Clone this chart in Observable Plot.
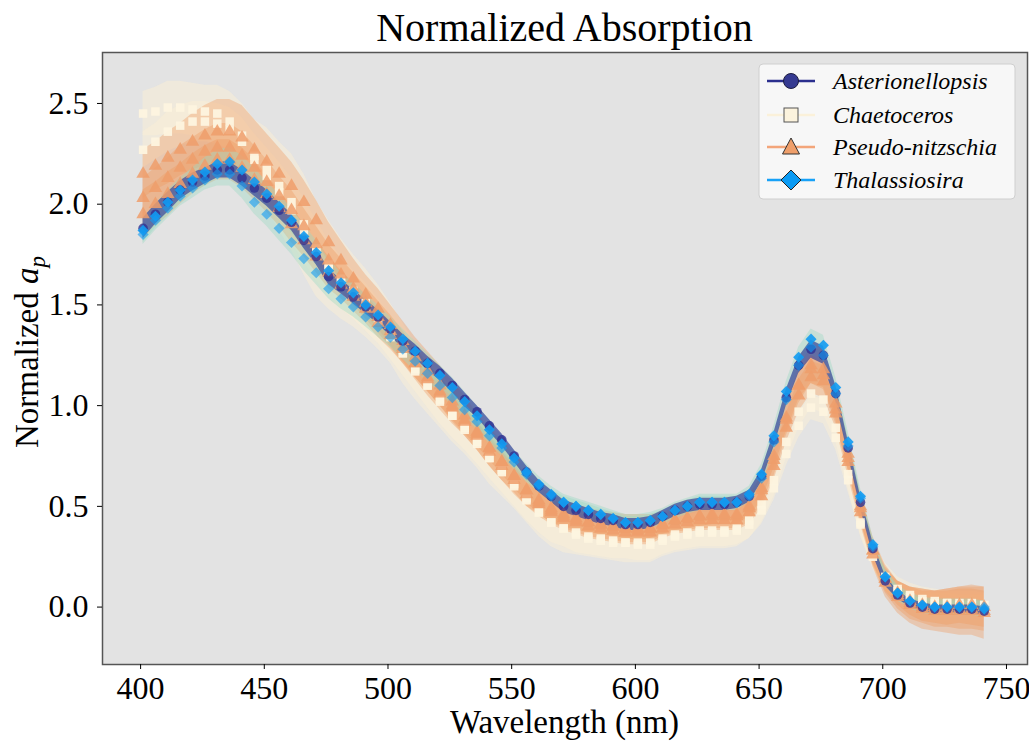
<!DOCTYPE html>
<html><head><meta charset="utf-8">
<script src="https://cdn.jsdelivr.net/npm/d3@7"></script>
<script src="https://cdn.jsdelivr.net/npm/@observablehq/plot@0.6"></script>
<style>
body{margin:0;background:#fff;width:1029px;height:741px;overflow:hidden;font-family:"Liberation Serif",serif;}
#title{height:50px;position:relative;}
#title span{position:absolute;left:102px;width:925px;text-align:center;top:8px;font-size:40px;line-height:40px;color:#000;}
#chart svg{display:block;}
</style></head><body>
<div id="title"><span>Normalized Absorption</span></div>
<div id="chart"></div>
<script>
// Wavelengths (nm)
const wl = [401,406,411,416,421,426,431,436,441,446,451,456,
461,466,471,476,481,486,491,496,501,506,511,516,
521,526,531,536,541,546,551,556,561,566,571,576,
581,586,591,596,601,606,611,616,621,626,631,636,
641,646,651,656,661,666,671,676,681,686,691,696,
701,706,711,716,721,726,731,736,741];

const xTicks = [400,450,500,550,600,650,700,750];
const yTicks = [0,0.5,1,1.5,2,2.5];
const species = ["Asterionellopsis","Chaetoceros","Pseudo-nitzschia","Thalassiosira"];

// Asterionellopsis
const astMean = [1.88,1.95,2.01,2.07,2.11,2.14,2.17,2.17,2.13,2.08,2.03,1.97,
1.91,1.82,1.74,1.64,1.59,1.54,1.49,1.44,1.38,1.32,1.27,1.21,
1.16,1.10,1.03,0.97,0.90,0.83,0.75,0.67,0.60,0.55,0.50,0.48,
0.46,0.44,0.43,0.41,0.41,0.42,0.45,0.48,0.50,0.51,0.51,0.51,
0.52,0.55,0.65,0.83,1.04,1.20,1.28,1.25,1.06,0.79,0.52,0.29,
0.13,0.06,0.02,0.00,-0.01,-0.01,-0.01,-0.01,-0.02];
const astSd = [0.05,0.05,0.05,0.045,0.045,0.04,0.04,0.04,0.04,0.04,0.04,0.04,
0.04,0.04,0.04,0.04,0.035,0.035,0.035,0.035,0.035,0.035,0.035,0.035,
0.035,0.035,0.035,0.03,0.03,0.03,0.03,0.03,0.03,0.03,0.03,0.03,
0.03,0.03,0.03,0.03,0.03,0.03,0.03,0.03,0.03,0.03,0.03,0.03,
0.03,0.03,0.03,0.035,0.04,0.04,0.045,0.045,0.04,0.035,0.03,0.03,
0.025,0.02,0.02,0.02,0.02,0.02,0.02,0.02,0.02];

// Thalassiosira (two samples)
const thaMean1 = [1.87,1.94,2.01,2.07,2.12,2.16,2.20,2.21,2.17,2.11,2.05,1.99,
1.92,1.84,1.76,1.67,1.61,1.56,1.50,1.45,1.39,1.33,1.27,1.21,
1.15,1.09,1.02,0.95,0.88,0.81,0.74,0.67,0.61,0.56,0.52,0.50,
0.48,0.46,0.44,0.42,0.42,0.43,0.45,0.48,0.50,0.52,0.52,0.52,
0.52,0.56,0.66,0.85,1.07,1.24,1.33,1.30,1.09,0.82,0.55,0.31,
0.15,0.07,0.03,0.01,0.00,0.00,0.00,0.00,-0.01];
const thaSd1 = [0.06,0.06,0.06,0.06,0.06,0.07,0.07,0.07,0.07,0.07,0.06,0.06,
0.06,0.06,0.06,0.06,0.05,0.05,0.05,0.05,0.05,0.05,0.05,0.05,
0.05,0.05,0.05,0.05,0.05,0.04,0.04,0.04,0.04,0.04,0.04,0.04,
0.04,0.04,0.04,0.04,0.04,0.04,0.04,0.04,0.04,0.04,0.04,0.04,
0.04,0.04,0.05,0.05,0.05,0.05,0.05,0.05,0.05,0.05,0.04,0.04,
0.04,0.04,0.04,0.04,0.04,0.04,0.04,0.04,0.04];
const thaMean2 = [1.85,1.92,1.98,2.04,2.08,2.12,2.15,2.15,2.09,2.01,1.95,1.88,
1.81,1.73,1.66,1.58,1.53,1.49,1.44,1.39,1.34,1.28,1.22,1.16,
1.10,1.04,0.98,0.92,0.85,0.79,0.72,0.66,0.60,0.55,0.52,0.50,
0.48,0.46,0.44,0.42,0.42,0.43,0.45,0.48,0.50,0.52,0.52,0.52,
0.52,0.55,0.64,0.82,1.03,1.20,1.29,1.25,1.06,0.80,0.54,0.30,
0.15,0.07,0.03,0.01,0.00,0.00,0.00,0.00,0.00];
const thaSd2 = [0.05,0.05,0.05,0.05,0.05,0.05,0.06,0.06,0.06,0.06,0.06,0.06,
0.06,0.06,0.06,0.05,0.05,0.05,0.05,0.05,0.05,0.05,0.05,0.04,
0.04,0.04,0.04,0.04,0.04,0.04,0.04,0.04,0.03,0.03,0.03,0.03,
0.03,0.03,0.03,0.03,0.03,0.03,0.03,0.03,0.03,0.03,0.03,0.03,
0.03,0.03,0.04,0.04,0.04,0.04,0.04,0.04,0.04,0.04,0.03,0.03,
0.03,0.03,0.03,0.03,0.03,0.03,0.03,0.03,0.03];

// Chaetoceros (two samples)
const chaMean1 = [2.45,2.46,2.48,2.48,2.47,2.46,2.45,2.41,2.34,2.24,2.18,2.09,
2.01,1.90,1.78,1.70,1.63,1.57,1.51,1.44,1.36,1.26,1.17,1.10,
1.03,0.95,0.89,0.82,0.74,0.68,0.61,0.54,0.47,0.42,0.39,0.37,
0.35,0.34,0.33,0.32,0.32,0.32,0.34,0.36,0.37,0.38,0.38,0.38,
0.39,0.43,0.51,0.63,0.82,0.97,1.06,1.03,0.89,0.66,0.42,0.26,
0.15,0.09,0.06,0.04,0.03,0.02,0.02,0.02,0.01];
const chaSd1 = [0.11,0.12,0.13,0.13,0.13,0.13,0.14,0.15,0.16,0.18,0.2,0.22,
0.24,0.25,0.24,0.22,0.2,0.18,0.17,0.16,0.15,0.15,0.14,0.14,
0.14,0.13,0.13,0.13,0.13,0.13,0.12,0.12,0.12,0.12,0.12,0.11,
0.1,0.1,0.1,0.1,0.1,0.1,0.09,0.09,0.09,0.09,0.09,0.09,
0.09,0.09,0.09,0.08,0.08,0.08,0.07,0.07,0.07,0.07,0.07,0.07,
0.07,0.06,0.06,0.06,0.06,0.06,0.06,0.06,0.06];
const chaMean2 = [2.27,2.31,2.36,2.39,2.41,2.41,2.40,2.37,2.31,2.22,2.14,2.06,
1.97,1.87,1.77,1.68,1.61,1.55,1.49,1.42,1.34,1.26,1.18,1.10,
1.02,0.95,0.88,0.81,0.74,0.67,0.60,0.53,0.47,0.42,0.39,0.36,
0.34,0.33,0.32,0.32,0.31,0.31,0.33,0.35,0.36,0.37,0.37,0.37,
0.38,0.41,0.48,0.59,0.76,0.90,0.99,0.97,0.84,0.63,0.41,0.25,
0.14,0.08,0.05,0.03,0.02,0.02,0.01,0.01,0.01];
const chaSd2 = [0.09,0.09,0.1,0.1,0.1,0.1,0.1,0.11,0.12,0.13,0.14,0.15,
0.16,0.16,0.15,0.14,0.13,0.12,0.12,0.11,0.11,0.11,0.11,0.11,
0.11,0.11,0.1,0.1,0.1,0.1,0.1,0.1,0.1,0.1,0.09,0.09,
0.08,0.08,0.08,0.08,0.08,0.08,0.07,0.07,0.07,0.07,0.07,0.07,
0.07,0.07,0.07,0.06,0.06,0.06,0.06,0.06,0.06,0.06,0.05,0.05,
0.05,0.05,0.05,0.05,0.05,0.05,0.05,0.05,0.05];

// Pseudo-nitzschia (three samples)
const psnMean1 = [2.15,2.19,2.23,2.27,2.31,2.34,2.36,2.36,2.33,2.27,2.21,2.15,
2.09,2.01,1.92,1.81,1.72,1.63,1.55,1.48,1.40,1.32,1.24,1.17,
1.10,1.02,0.95,0.87,0.79,0.72,0.65,0.58,0.53,0.49,0.46,0.44,
0.42,0.41,0.40,0.39,0.39,0.39,0.41,0.43,0.44,0.45,0.45,0.45,
0.45,0.49,0.58,0.73,0.93,1.10,1.20,1.18,1.01,0.76,0.50,0.28,
0.14,0.06,0.02,0.00,-0.01,-0.01,-0.01,-0.01,-0.02];
const psnSd1 = [0.12,0.12,0.13,0.13,0.14,0.15,0.16,0.16,0.16,0.15,0.14,0.13,
0.12,0.11,0.1,0.1,0.1,0.1,0.1,0.1,0.1,0.1,0.1,0.1,
0.1,0.1,0.1,0.09,0.09,0.09,0.08,0.08,0.07,0.07,0.07,0.07,
0.07,0.07,0.07,0.07,0.07,0.07,0.06,0.06,0.06,0.06,0.06,0.06,
0.06,0.07,0.07,0.08,0.08,0.09,0.09,0.09,0.08,0.08,0.07,0.07,
0.07,0.07,0.08,0.08,0.09,0.09,0.1,0.1,0.1];
const psnMean2 = [2.03,2.08,2.13,2.18,2.22,2.26,2.28,2.28,2.24,2.18,2.11,2.04,
1.97,1.89,1.80,1.72,1.65,1.58,1.51,1.44,1.37,1.29,1.21,1.13,
1.06,0.99,0.92,0.85,0.77,0.70,0.63,0.56,0.51,0.47,0.44,0.42,
0.40,0.39,0.38,0.37,0.37,0.37,0.39,0.41,0.42,0.43,0.43,0.43,
0.43,0.47,0.55,0.70,0.89,1.05,1.14,1.12,0.96,0.72,0.47,0.26,
0.12,0.05,0.01,-0.01,-0.02,-0.02,-0.02,-0.02,-0.03];
const psnSd2 = [0.1,0.1,0.1,0.11,0.11,0.11,0.12,0.12,0.12,0.11,0.11,0.1,
0.1,0.09,0.09,0.08,0.08,0.08,0.08,0.08,0.08,0.08,0.08,0.08,
0.08,0.08,0.07,0.07,0.07,0.07,0.07,0.06,0.06,0.06,0.06,0.06,
0.06,0.06,0.06,0.06,0.06,0.06,0.05,0.05,0.05,0.05,0.05,0.05,
0.05,0.06,0.06,0.07,0.07,0.08,0.08,0.08,0.07,0.07,0.06,0.06,
0.07,0.08,0.09,0.1,0.1,0.11,0.12,0.12,0.13];
const psnMean3 = [1.95,2.00,2.05,2.10,2.15,2.19,2.22,2.22,2.18,2.12,2.05,1.98,
1.90,1.82,1.74,1.66,1.60,1.54,1.48,1.41,1.35,1.28,1.21,1.14,
1.07,1.00,0.93,0.86,0.79,0.72,0.65,0.58,0.52,0.48,0.45,0.43,
0.42,0.41,0.40,0.39,0.38,0.39,0.41,0.43,0.44,0.45,0.46,0.46,
0.46,0.50,0.59,0.75,0.94,1.10,1.18,1.15,0.98,0.74,0.49,0.28,
0.14,0.07,0.03,0.01,0.00,0.00,0.01,0.01,0.00];
const psnSd3 = [0.12,0.11,0.11,0.1,0.1,0.1,0.1,0.1,0.1,0.1,0.09,0.09,
0.09,0.08,0.08,0.08,0.07,0.07,0.07,0.07,0.07,0.07,0.07,0.07,
0.07,0.07,0.07,0.06,0.06,0.06,0.06,0.06,0.06,0.06,0.05,0.05,
0.05,0.05,0.05,0.05,0.05,0.05,0.05,0.05,0.05,0.05,0.05,0.05,
0.05,0.05,0.06,0.06,0.07,0.07,0.07,0.07,0.07,0.06,0.06,0.06,
0.06,0.06,0.07,0.08,0.08,0.09,0.09,0.1,0.1];

const colors = {
  ast: {marker:"#2e3192", band:"#34409a", line:"#2b2f8e"},
  cha: {marker:"#fdf4df", band:"#fcf0d5", line:"#fbf1da"},
  psn: {marker:"#ef9d6b", band:"#f09a62", line:"#f3a57a"},
  tha: {marker:"#129bf2", band:"#9ad9c4", line:"#17a1f7"}
};

const rows = (m, s) => wl.map((w, i) => ({w, m: m[i], lo: m[i] - s[i], hi: m[i] + s[i]}));
const A = rows(astMean, astSd);
const T1 = rows(thaMean1, thaSd1), T2 = rows(thaMean2, thaSd2);
const C1 = rows(chaMean1, chaSd1), C2 = rows(chaMean2, chaSd2);
const P1 = rows(psnMean1, psnSd1), P2 = rows(psnMean2, psnSd2), P3 = rows(psnMean3, psnSd3);

const band = (d, fill, op) => Plot.areaY(d, {x: "w", y1: "lo", y2: "hi", fill, fillOpacity: op});
const dots = (d, symbol, fill, op, r) => Plot.dot(d, {x: "w", y: "m", symbol, fill, fillOpacity: op, stroke: "none", r});

const svg = Plot.plot({
  width: 1029, height: 691,
  marginTop: 2, marginBottom: 77, marginLeft: 102, marginRight: 2,
  style: {fontFamily: "Liberation Serif, serif", fontSize: "32px", color: "#000", background: "transparent"},
  x: {domain: [384.6, 758.5]},
  y: {domain: [-0.285, 2.753]},
  marks: [
    Plot.frame({fill: "#e3e3e3"}),
    band(C1, colors.cha.band, 0.5),
    band(C2, colors.cha.band, 0.5),
    band(P1, colors.psn.band, 0.38),
    band(P2, colors.psn.band, 0.38),
    band(P3, colors.psn.band, 0.38),
    band(T1, colors.tha.band, 0.4),
    band(T2, colors.tha.band, 0.4),
    band(A, colors.ast.band, 0.68),
    dots(C1, "square", colors.cha.marker, 0.95, 4.8),
    dots(C2, "square", colors.cha.marker, 0.95, 4.8),
    dots(P1, "triangle", colors.psn.marker, 0.85, 5),
    dots(P2, "triangle", colors.psn.marker, 0.85, 5),
    dots(P3, "triangle", colors.psn.marker, 0.85, 5),
    dots(A, "circle", colors.ast.marker, 0.8, 4.8),
    dots(T2, "diamond2", colors.tha.marker, 0.6, 5),
    dots(T1, "diamond2", colors.tha.marker, 0.9, 5),
    Plot.frame({stroke: "#555", strokeWidth: 1.5}),
    Plot.axisX({ticks: xTicks, tickSize: 5, tickPadding: 7, label: null, fontSize: 32}),
    Plot.axisY({ticks: yTicks, tickSize: 5, tickPadding: 9, tickFormat: d3.format(".1f"), label: null, fontSize: 32})
  ]
});
document.getElementById("chart").appendChild(svg);

const s = d3.select(svg);
// Axis labels
s.append("text")
  .attr("x", 564.5).attr("y", 683)
  .attr("text-anchor", "middle")
  .style("font-family", "Liberation Serif, serif").style("font-size", "33px").attr("fill", "#000")
  .text("Wavelength (nm)");
const yl = s.append("text")
  .attr("transform", "translate(38,302) rotate(-90)")
  .attr("text-anchor", "middle")
  .style("font-family", "Liberation Serif, serif").style("font-size", "33px").attr("fill", "#000");
yl.append("tspan").text("Normalized ");
yl.append("tspan").attr("font-style", "italic").text("a");
yl.append("tspan").attr("font-style", "italic").attr("font-size", "23px").attr("dy", 7).text("p");

// Legend
const lg = s.append("g").attr("text-anchor", "start");
lg.append("rect").attr("x", 759).attr("y", 14).attr("width", 256).attr("height", 135)
  .attr("rx", 4).attr("fill", "#f9f9f9").attr("fill-opacity", 0.92).attr("stroke", "#cfcfcf");
const rowsY = [31, 65, 97, 130];
const keys = ["ast", "cha", "psn", "tha"];
const mk = ["circle", "square", "triangle", "diamond"];
species.forEach((name, i) => {
  const y = rowsY[i], c = colors[keys[i]];
  lg.append("line").attr("x1", 767).attr("x2", 815).attr("y1", y).attr("y2", y)
    .attr("stroke", c.line).attr("stroke-width", 2.5);
  const cx = 791;
  if (mk[i] === "circle") {
    lg.append("circle").attr("cx", cx).attr("cy", y).attr("r", 7.5)
      .attr("fill", "#353a91").attr("stroke", "#1c1c40").attr("stroke-width", 1);
  } else if (mk[i] === "square") {
    lg.append("rect").attr("x", cx - 7).attr("y", y - 7).attr("width", 14).attr("height", 14)
      .attr("fill", "#fcf3dd").attr("stroke", "#555").attr("stroke-width", 1);
  } else if (mk[i] === "triangle") {
    lg.append("path").attr("d", `M${cx},${y - 9}L${cx + 8.5},${y + 7}L${cx - 8.5},${y + 7}Z`)
      .attr("fill", "#ef9f6b").attr("stroke", "#333").attr("stroke-width", 1);
  } else {
    lg.append("path").attr("d", `M${cx},${y - 10}L${cx + 10},${y}L${cx},${y + 10}L${cx - 10},${y}Z`)
      .attr("fill", "#0b9bf4").attr("stroke", "#222").attr("stroke-width", 1);
  }
  lg.append("text").attr("x", 833).attr("y", y).attr("dy", "0.33em").attr("text-anchor", "start")
    .style("font-family", "Liberation Serif, serif").style("font-size", "24px").style("font-style", "italic")
    .attr("fill", "#000").text(name);
});
</script></body></html>
